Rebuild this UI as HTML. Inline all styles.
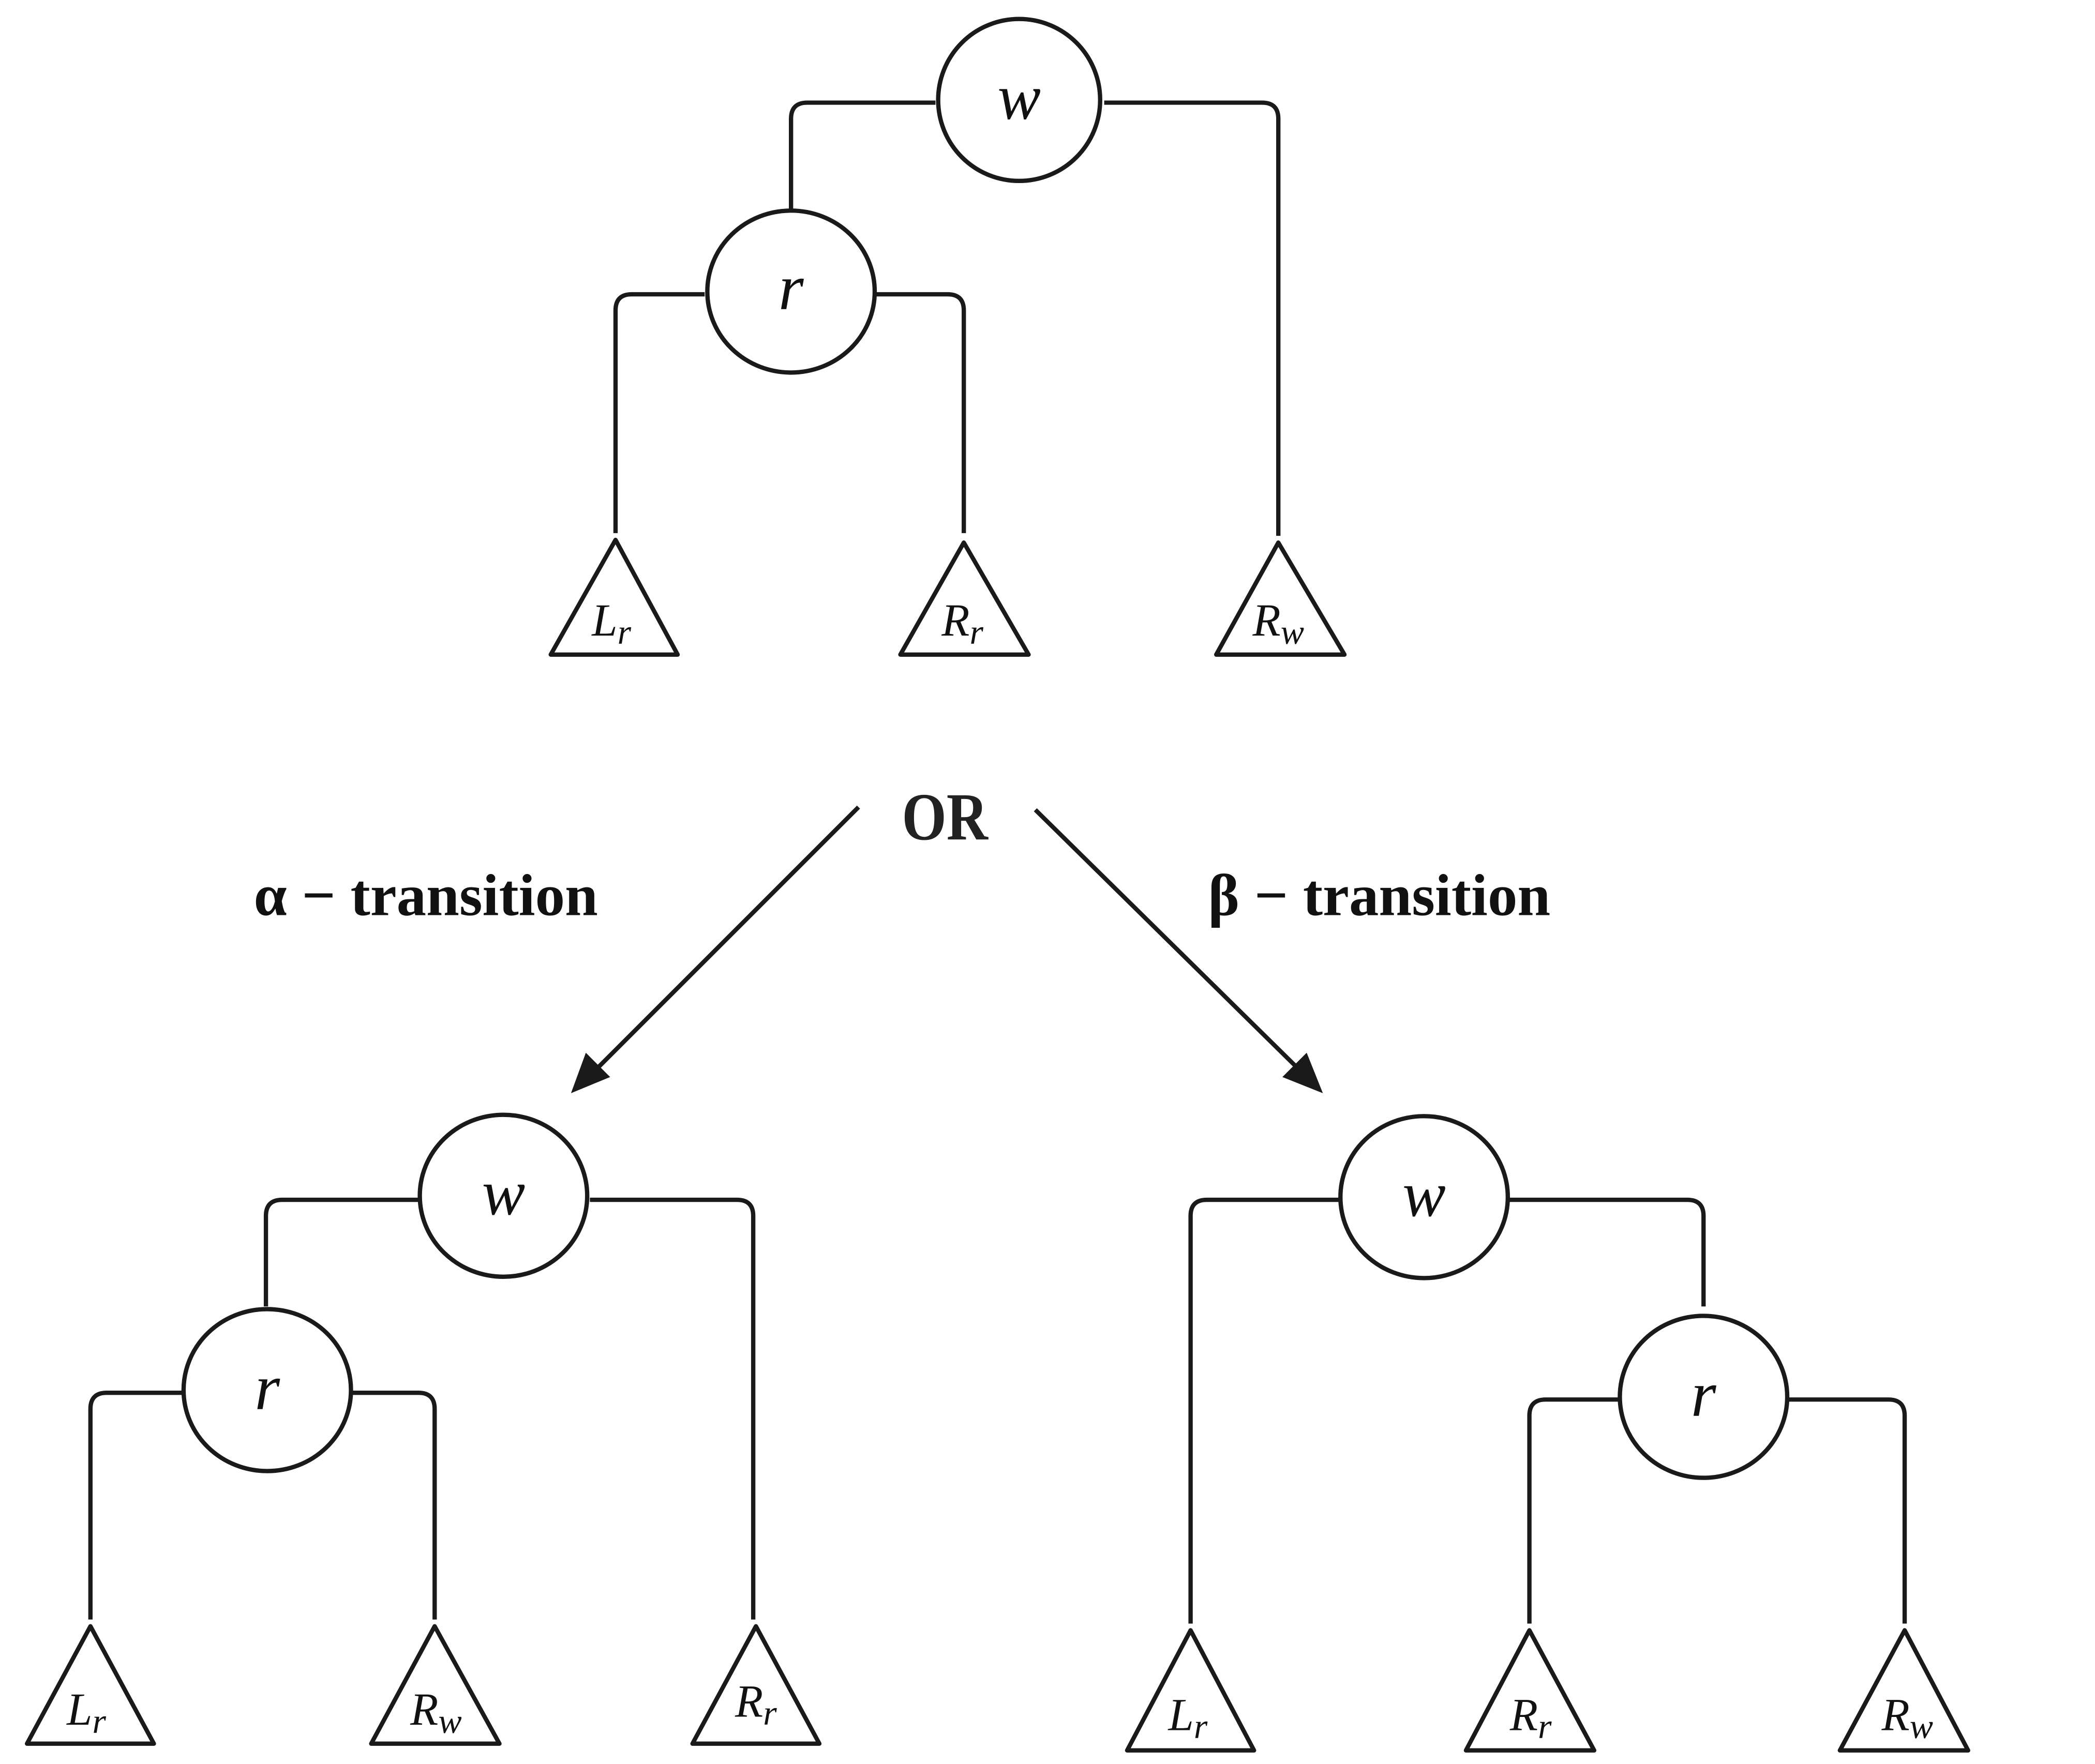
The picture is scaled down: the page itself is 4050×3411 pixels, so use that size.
<!DOCTYPE html>
<html><head><meta charset="utf-8"><style>html,body{margin:0;padding:0;background:#fff}svg{display:block}</style></head><body>
<svg width="4050" height="3411" viewBox="0 0 1552 1307" xmlns="http://www.w3.org/2000/svg">
<g fill="none" stroke="#1a1a1a" stroke-width="3.2" stroke-linejoin="round">
<!-- top tree -->
<path d="M693 76 H598 Q586 76 586 88 V157"/>
<path d="M818 76 H935 Q947 76 947 88 V397"/>
<path d="M522 218 H468 Q456 218 456 230 V395"/>
<path d="M648 218 H702 Q714 218 714 230 V395"/>
<ellipse cx="755" cy="74" rx="60" ry="60"/>
<ellipse cx="586" cy="216" rx="62" ry="60"/>
<polygon points="456,400 408,485 502,485"/>
<polygon points="714,402 667,485 762,485"/>
<polygon points="947,402 901,485 996,485"/>
<!-- bottom left -->
<path d="M311 889 H209 Q197 889 197 901 V968"/>
<path d="M437 889 H546 Q558 889 558 901 V1200"/>
<path d="M136 1032 H79 Q67 1032 67 1044 V1200"/>
<path d="M260 1032 H310 Q322 1032 322 1044 V1200"/>
<ellipse cx="373" cy="886" rx="62" ry="60"/>
<ellipse cx="198" cy="1030" rx="62" ry="60"/>
<polygon points="67,1205 20,1292 114,1292"/>
<polygon points="322,1205 275,1292 370,1292"/>
<polygon points="560,1205 513,1292 607,1292"/>
<!-- bottom right -->
<path d="M993 889 H894 Q882 889 882 901 V1203"/>
<path d="M1117 889 H1250 Q1262 889 1262 901 V968"/>
<path d="M1200 1037 H1145 Q1133 1037 1133 1049 V1203"/>
<path d="M1324 1037 H1399 Q1411 1037 1411 1049 V1203"/>
<ellipse cx="1055" cy="887" rx="62" ry="60"/>
<ellipse cx="1262" cy="1035" rx="62" ry="60"/>
<polygon points="882,1208 835,1297 929,1297"/>
<polygon points="1133,1208 1086,1297 1181,1297"/>
<polygon points="1411,1208 1363,1297 1458,1297"/>
<!-- arrows -->
<line x1="636" y1="598" x2="436" y2="798"/>
<line x1="767" y1="600" x2="968" y2="798"/>
</g>
<polygon points="423,810 434,780 452,798" fill="#1a1a1a"/>
<polygon points="980,810 950,798 968,780" fill="#1a1a1a"/>
<g font-family="Liberation Serif, serif" font-style="italic" fill="#111" text-anchor="middle">
<text x="755" y="88" font-size="48">w</text>
<text x="586" y="229" font-size="48">r</text>
<text x="373" y="900" font-size="48">w</text>
<text x="198" y="1044" font-size="48">r</text>
<text x="1055" y="901" font-size="48">w</text>
<text x="1262" y="1049" font-size="48">r</text>
<g font-size="34">
<text x="453" y="471">L<tspan font-size="26" dy="6">r</tspan></text>
<text x="713" y="471">R<tspan font-size="26" dy="6">r</tspan></text>
<text x="947" y="471">R<tspan font-size="26" dy="6">w</tspan></text>
<text x="64" y="1278">L<tspan font-size="26" dy="6">r</tspan></text>
<text x="323" y="1278">R<tspan font-size="26" dy="6">w</tspan></text>
<text x="560" y="1272">R<tspan font-size="26" dy="6">r</tspan></text>
<text x="880" y="1282">L<tspan font-size="26" dy="6">r</tspan></text>
<text x="1134" y="1282">R<tspan font-size="26" dy="6">r</tspan></text>
<text x="1413" y="1282">R<tspan font-size="26" dy="6">w</tspan></text>
</g>
</g>
<g font-family="Liberation Serif, serif" font-weight="bold" fill="#111">
<text x="700" y="622" font-size="50" text-anchor="middle" transform="translate(700 0) scale(0.85 1) translate(-700 0)" fill="#222">OR</text>
<text x="188" y="678" font-size="44">α − transition</text>
<text x="895" y="678" font-size="44">β − transition</text>
</g>
</svg>
</body></html>
